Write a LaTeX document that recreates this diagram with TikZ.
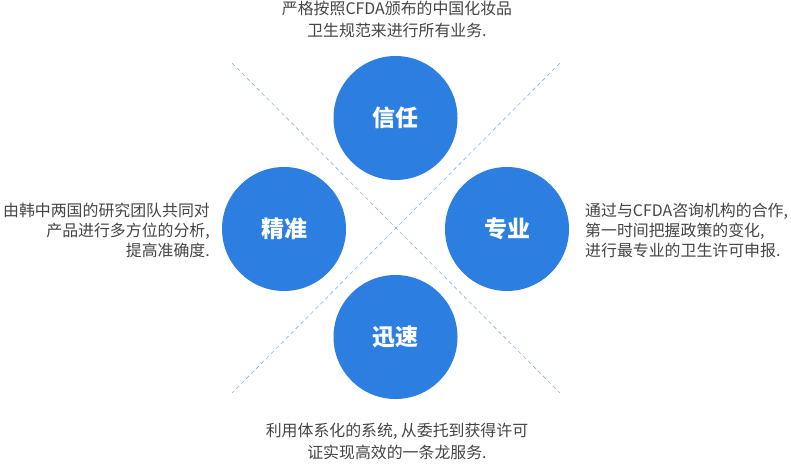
\documentclass[tikz,border=0pt]{standalone}
\usepackage{fontspec}
\newfontfamily\cjk{Noto Sans CJK SC}
\usepackage{tikz}
\usetikzlibrary{positioning}
\definecolor{circblue}{HTML}{2C7FE0}
\definecolor{dashblue}{HTML}{8AB0EA}
\definecolor{txtgray}{HTML}{444444}
\tikzset{
  bigcircle/.style={circle, fill=circblue, minimum size=124pt, inner sep=0pt, text=white, font=\cjk\bfseries\fontsize{23}{26}\selectfont},
  desc/.style={text=txtgray, inner sep=0pt, font=\cjk\fontsize{15.9}{20}\selectfont},
  wide/.style={desc, font=\cjk\fontsize{15.9}{22}\selectfont},
  diag/.style={dashblue, line width=0.6pt, dash pattern=on 4pt off 3pt}
}

\begin{document}
\begin{tikzpicture}[x=1pt,y=-1pt]
        \useasboundingbox (0,0) rectangle (791,463);
        \coordinate (nw) at (232,63);
        \coordinate (ne) at (560,63);
        \coordinate (sw) at (232,393);
        \coordinate (se) at (560,393);

        \draw[diag] (nw) -- (se);
        \draw[diag] (ne) -- (sw);

        \node[bigcircle] (trust) at (395.5,118) {信任};
        \node[bigcircle] (precise) at (284,229) {精准};
        \node[bigcircle] (expert) at (507,229) {专业};
        \node[bigcircle] (fast) at (395.5,337) {迅速};

        \node[wide, align=center] (trusttext) at (397,19.5) {严格按照CFDA颁布的中国化妆品\\卫生规范来进行所有业务.};
        \node[desc, align=right, anchor=east] (precisetext) at (210,230) {由韩中两国的研究团队共同对\\产品进行多方位的分析,\\提高准确度.};
        \node[desc, align=left, anchor=west] (experttext) at (585,230) {通过与CFDA咨询机构的合作,\\第一时间把握政策的变化,\\进行最专业的卫生许可申报.};
        \node[wide, align=center] (fasttext) at (397,441) {利用体系化的系统, 从委托到获得许可\\证实现高效的一条龙服务.};
\end{tikzpicture}
\end{document}
